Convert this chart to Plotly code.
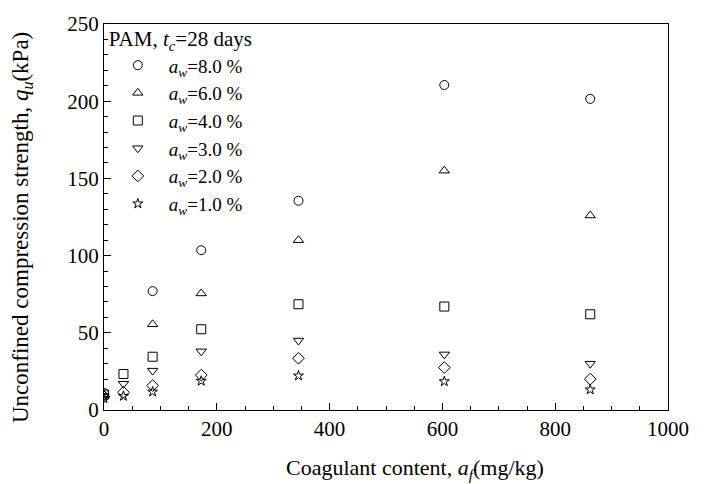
import plotly.graph_objects as go

x_vals = [0, 34.5, 86.2, 172.4, 344.8, 603.4, 862.1]
labels = ["8.0", "6.0", "4.0", "3.0", "2.0", "1.0"]
symbols = ["circle-open", "triangle-up-open", "square-open", "triangle-down-open", "diamond-open", "star-open"]
sizes = [9, 9, 9, 9, 9, 7.5]

q_8 = [11, None, 77, 103.5, 135.5, 210.5, 201.5]
q_6 = [10, None, 55.5, 75.5, 110, 155, 126]
q_4 = [10, 23.3, 34.5, 52.3, 68.5, 67, 62]
q_3 = [9, 17, 25.5, 38, 45, 36, 30]
q_2 = [8.5, 11.5, 15.8, 22.6, 33.5, 27.5, 20]
q_1 = [7.5, 9, 11.8, 18.8, 22.2, 18.5, 13.2]
series = [q_8, q_6, q_4, q_3, q_2, q_1]

FONT = "Liberation Serif"
fig = go.Figure()
for lab, sym, sz, ys in zip(labels, symbols, sizes, series):
    xs = [x for x, y in zip(x_vals, ys) if y is not None]
    yy = [y for y in ys if y is not None]
    fig.add_trace(go.Scatter(
        x=xs, y=yy, mode="markers",
        name="<i>a</i><sub><i>w</i></sub>=" + lab + " %",
        marker=dict(symbol=sym, size=sz, color="black", line=dict(width=1, color="black")),
    ))

axis_common = dict(
    showline=True, linecolor="black", linewidth=1.3, mirror=True,
    ticks="inside", ticklen=7, tickwidth=1, tickcolor="black",
    showgrid=False, zeroline=False,
    tickfont=dict(family=FONT, size=21, color="black"),
)
fig.update_xaxes(
    range=[0, 1000], dtick=200,
    minor=dict(dtick=50, ticks="inside", ticklen=4, tickcolor="black"),
    **axis_common,
)
fig.update_yaxes(
    range=[0, 250], dtick=50,
    minor=dict(dtick=10, ticks="inside", ticklen=4, tickcolor="black"),
    **axis_common,
)
fig.add_annotation(
    text="Coagulant content, <i>a</i><sub><i>f</i></sub>(mg/kg)",
    xref="paper", yref="paper", x=0.551, y=-0.153, xanchor="center", yanchor="middle",
    showarrow=False, font=dict(family=FONT, size=22, color="black"),
)
fig.add_annotation(
    text="Unconfined compression strength, <i>q</i><sub><i>u</i></sub>(kPa)",
    xref="paper", yref="paper", x=-0.145, y=0.472, xanchor="center", yanchor="middle",
    textangle=-90, showarrow=False, font=dict(family=FONT, size=23, color="black"),
)
fig.update_layout(
    width=704, height=484,
    margin=dict(l=104, r=36, t=18, b=74),
    paper_bgcolor="white", plot_bgcolor="white",
    font=dict(family=FONT, color="black"),
    legend=dict(
        x=0.005, y=1.013, xanchor="left", yanchor="top",
        bgcolor="rgba(0,0,0,0)",
        title=dict(text="PAM, <i>t</i><sub><i>c</i></sub>=28 days", font=dict(family=FONT, size=21)),
        font=dict(family=FONT, size=19),
        itemwidth=52,
    ),
)
fig.write_html("out.html")
